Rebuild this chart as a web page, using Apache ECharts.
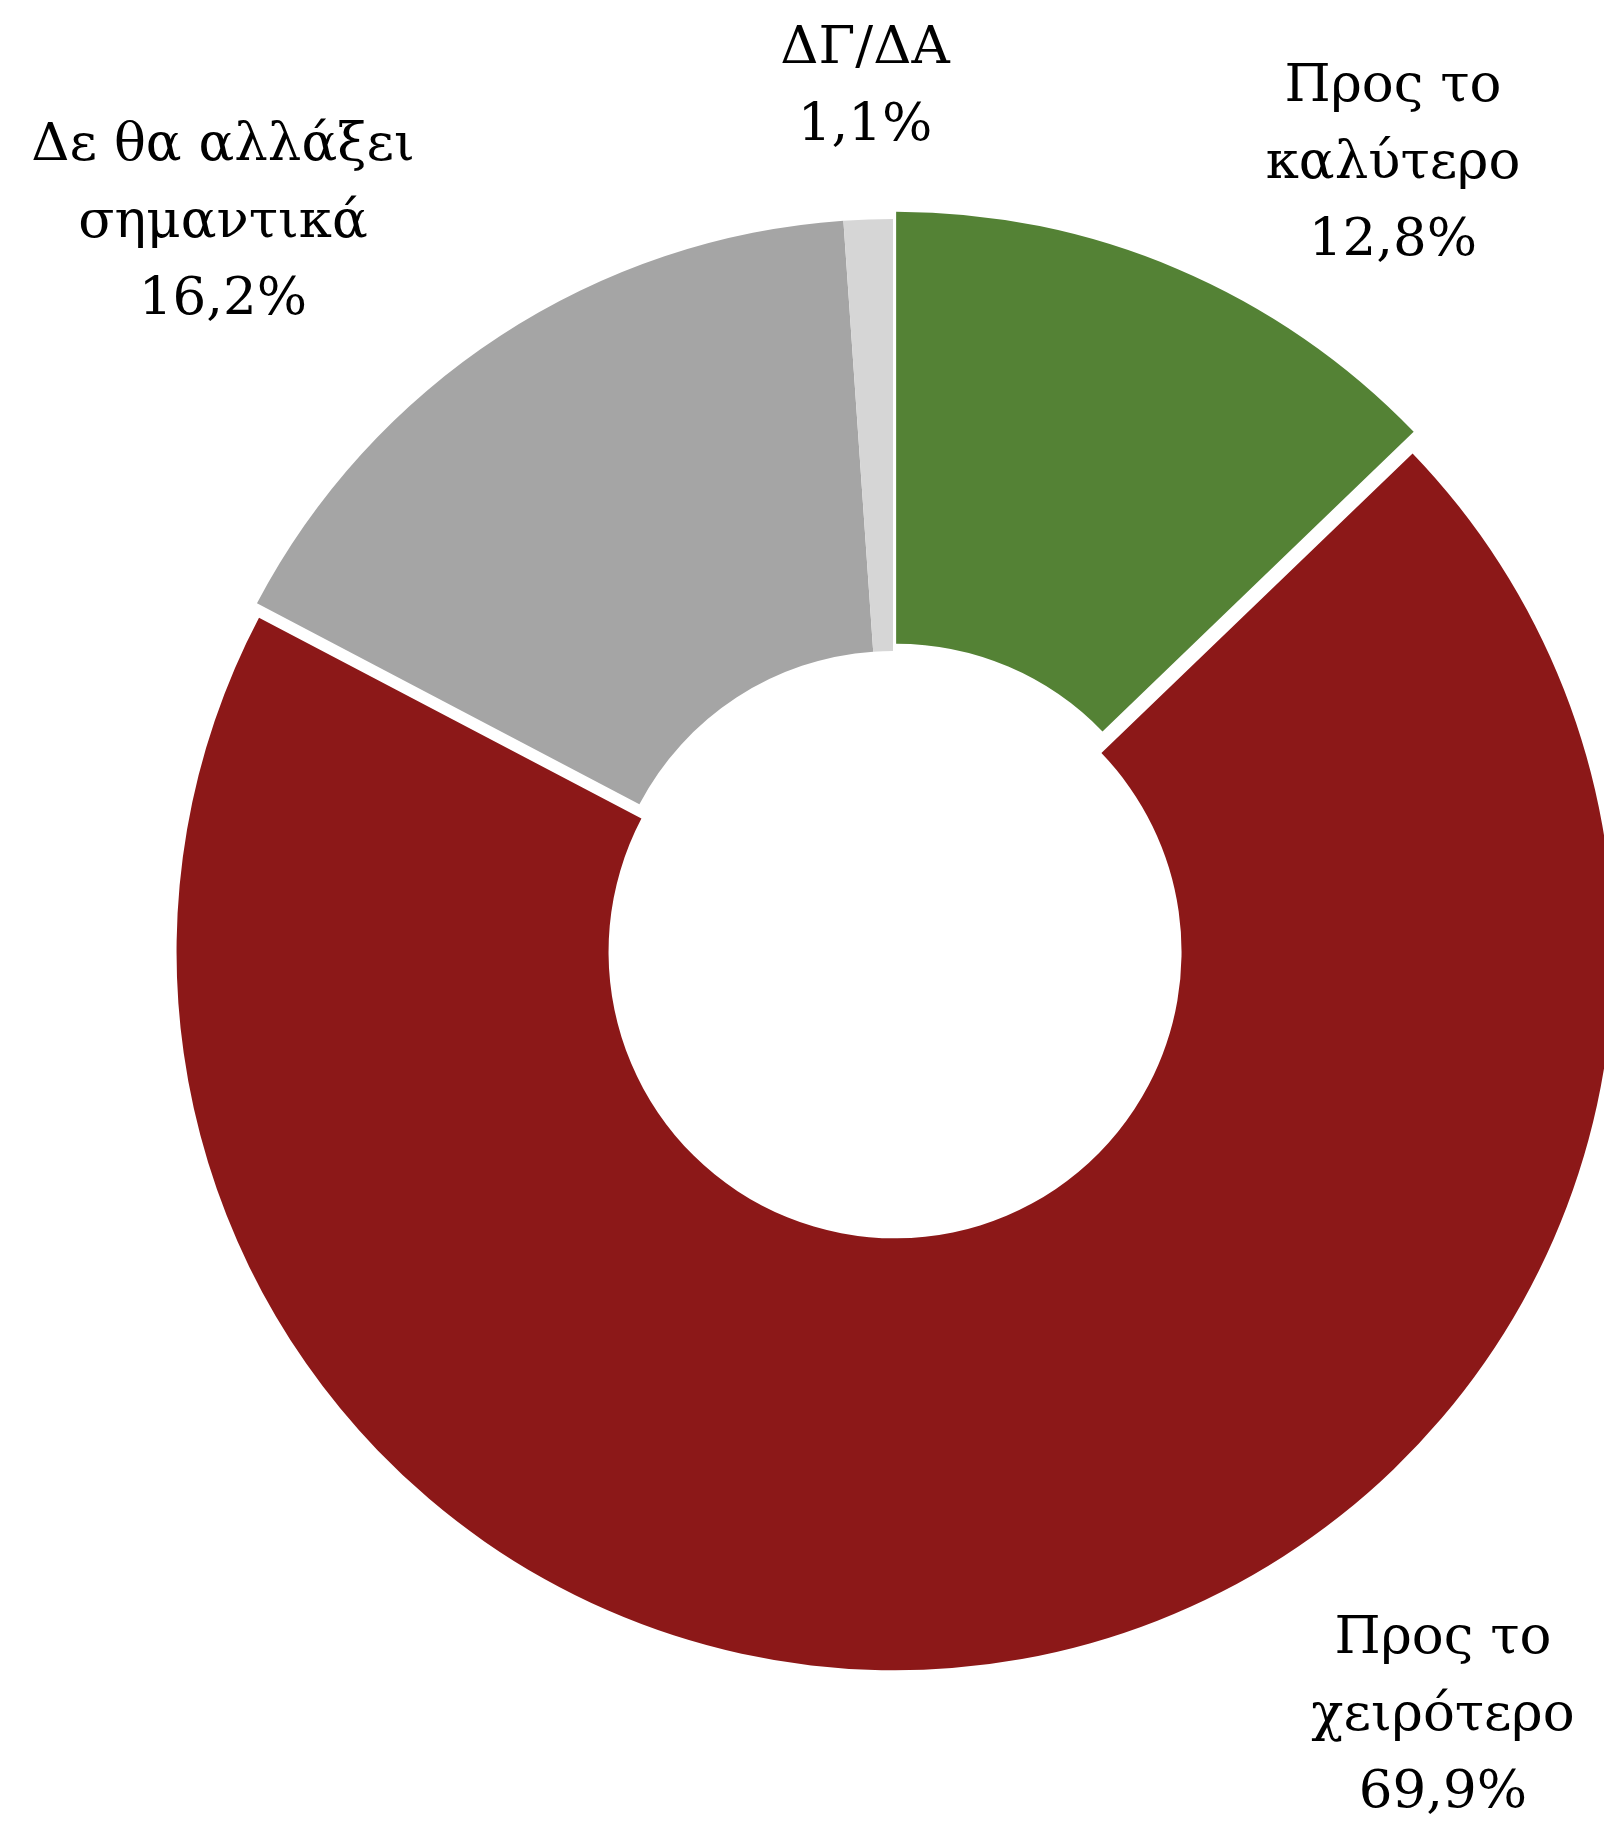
<!DOCTYPE html>
<html lang="el">
<head>
    <meta charset="UTF-8">
    <script type="text/javascript" src="https://cdn.jsdelivr.net/npm/echarts@6/dist/echarts.min.js"></script>
    <title>Προσδοκίες</title>
    <style>
        html, body { margin: 0; padding: 0; background: #fff; }
        #main { width: 1604px; height: 1824px; }
    </style>
</head>
<body>
<div id="main"></div>

<script type="text/javascript">

    // τα δεδομένα του γραφήματος
    var names = ['Προς το καλύτερο', 'Προς το χειρότερο', 'Δε θα αλλάξει σημαντικά', 'ΔΓ/ΔΑ'];
    var nameLines = [['Προς το', 'καλύτερο'], ['Προς το', 'χειρότερο'], ['Δε θα αλλάξει', 'σημαντικά'], ['ΔΓ/ΔΑ']];
    var values = [12.8, 69.9, 16.2, 1.1];

    // εμφάνιση
    var colors = ['#548235', '#8C1818', '#A5A5A5', '#D6D6D6'];
    var explode = [8, 14.5, 0, 0];          // πόσο "βγαίνει" κάθε κομμάτι προς τα έξω (px)
    var labelSpots = [[500, -773], [550, 779], [-670, -714], [-28, -850]];  // θέση ετικέτας ως προς το κέντρο
    var cx = 893, cy = 937.5;

    var myChart = echarts.init(document.getElementById('main'));

    // ένα pie για κάθε διαφορετικό offset, τα υπόλοιπα κομμάτια διάφανα
    var offsets = [];
    explode.forEach(function (o) { if (offsets.indexOf(o) < 0) offsets.push(o); });
    offsets.sort(function (a, b) { return a - b; });

    var series = offsets.map(function (off, k) {
        var data = names.map(function (n, i) {
            var mine = explode[i] === off;
            return {
                name: n,
                value: values[i],
                selected: mine && off > 0,
                itemStyle: { color: mine ? colors[i] : 'rgba(0,0,0,0)' }
            };
        });
        return {
            type: 'pie',
            silent: true,
            animation: false,
            center: [cx, cy],
            radius: [286.5, 718.5],
            startAngle: 90,
            clockwise: true,
            avoidLabelOverlap: false,
            selectedMode: 'multiple',
            selectedOffset: off,
            itemStyle: { borderWidth: 0 },
            labelLine: { show: false },
            label: {
                show: k === 0,
                position: 'outside',
                color: '#000',
                fontFamily: 'DejaVu Serif',
                fontSize: 53,
                lineHeight: 77,
                align: 'center',
                formatter: function (p) {
                    return nameLines[p.dataIndex].join('\n') + '\n' +
                        String(p.value).replace('.', ',') + '%';
                }
            },
            labelLayout: function (p) {
                var s = labelSpots[p.dataIndex];
                return { x: cx + s[0], y: cy + s[1], align: 'center', verticalAlign: 'middle' };
            },
            data: data
        };
    });

    myChart.setOption({
        backgroundColor: '#fff',
        animation: false,
        series: series
    });
</script>
</body>
</html>
